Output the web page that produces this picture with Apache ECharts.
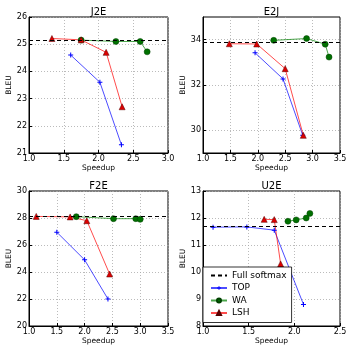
<!DOCTYPE html>
<html>
<head>
<meta charset="utf-8">
<script src="https://cdn.jsdelivr.net/npm/echarts@6/dist/echarts.min.js"></script>
<style>
  html, body { margin: 0; padding: 0; background: #fff; }
  #chart { width: 354px; height: 354px; }
</style>
</head>
<body>
<div id="chart"></div>
<script>
  // panel titles and the full softmax baseline of each
  const panels = ['J2E', 'E2J', 'F2E', 'U2E'];
  const fullSoftmax = [25.15, 33.87, 28.1, 11.69];

  // [speedup, BLEU] points
  const j2eTop = [[1.6, 24.6], [2.02, 23.6], [2.33, 21.3]];
  const j2eWA = [[1.75, 25.15], [2.25, 25.1], [2.6, 25.1], [2.7, 24.72]];
  const j2eLSH = [[1.33, 25.21], [1.75, 25.16], [2.11, 24.7], [2.34, 22.7]];

  const e2jTop = [[1.95, 33.42], [2.46, 32.27], [2.82, 29.78]];
  const e2jWA = [[2.29, 33.97], [2.89, 34.05], [3.23, 33.8], [3.3, 33.23]];
  const e2jLSH = [[1.48, 33.82], [1.98, 33.81], [2.5, 32.72], [2.83, 29.78]];

  const f2eTop = [[1.5, 26.95], [2.0, 24.9], [2.42, 22.0]];
  const f2eWA = [[1.85, 28.1], [2.52, 27.95], [2.92, 27.95], [3.0, 27.9]];
  const f2eLSH = [[1.13, 28.12], [1.74, 28.08], [2.04, 27.8], [2.45, 23.85]];

  const u2eTop = [[1.11, 11.66], [1.48, 11.67], [1.78, 11.55], [2.1, 8.8]];
  const u2eWA = [[1.93, 11.88], [2.02, 11.93], [2.13, 12.0], [2.17, 12.17]];
  const u2eLSH = [[1.67, 11.95], [1.78, 11.94], [1.85, 10.3]];

  const topSets = [j2eTop, e2jTop, f2eTop, u2eTop];
  const waSets = [j2eWA, e2jWA, f2eWA, u2eWA];
  const lshSets = [j2eLSH, e2jLSH, f2eLSH, u2eLSH];

  // axis limits per panel
  const xRange = [[1, 3], [1, 3.5], [1, 3.5], [1, 2.5]];
  const yRange = [[21, 26], [29, 35], [20, 30], [8, 13]];
  const yStep = [1, 1, 2, 1];

  const grids = [
    { left: 29, top: 17, width: 139, height: 136 },
    { left: 203, top: 17, width: 137, height: 136 },
    { left: 29, top: 191, width: 139, height: 135 },
    { left: 203, top: 191, width: 137, height: 135 }
  ];

  const font = 'DejaVu Sans';
  const plusPath = 'path://M4,0H6V4H10V6H6V10H4V6H0V4H4Z';

  const option = {
    animation: false,
    backgroundColor: '#fff',
    textStyle: { fontFamily: font },
    title: panels.map((t, i) => ({
      text: t,
      left: grids[i].left + grids[i].width / 2,
      top: grids[i].top - 10,
      textAlign: 'center',
      padding: 0,
      textStyle: { fontFamily: font, fontSize: 10, fontWeight: 'normal', color: '#000' }
    })),
    grid: grids.map(g => Object.assign({ show: true, borderColor: '#000', borderWidth: 1 }, g)),
    legend: {
      orient: 'vertical',
      left: 203,
      top: 267,
      padding: [4, 5, 5, 7],
      itemWidth: 16,
      itemHeight: 5,
      itemGap: 3.5,
      backgroundColor: '#fff',
      borderColor: '#000',
      borderWidth: 0.8,
      textStyle: { fontFamily: font, fontSize: 9, color: '#000' },
      data: [
        { name: 'Full softmax', itemStyle: { opacity: 0 } },
        'TOP', 'WA', 'LSH'
      ]
    },
    xAxis: panels.map((t, i) => ({
      type: 'value',
      gridIndex: i,
      min: xRange[i][0],
      max: xRange[i][1],
      interval: 0.5,
      name: 'Speedup',
      nameLocation: 'middle',
      nameGap: 11,
      nameTextStyle: { fontFamily: font, fontSize: 7.5, color: '#000' },
      axisLine: { show: true, onZero: false, lineStyle: { color: '#000' } },
      axisTick: { show: true, inside: true, length: 3, lineStyle: { color: '#000' } },
      axisLabel: { fontFamily: font, fontSize: 8, color: '#000', margin: 2,
        formatter: v => v.toFixed(1) },
      splitLine: { show: true, lineStyle: { color: '#aaa', type: [1, 2], width: 0.8 } }
    })),
    yAxis: panels.map((t, i) => {
      const ax = {
        type: 'value',
        gridIndex: i,
        min: yRange[i][0],
        max: yRange[i][1],
        interval: yStep[i],
        name: 'BLEU',
        nameLocation: 'middle',
        nameGap: 11,
        nameTextStyle: { fontFamily: font, fontSize: 7.5, color: '#000' },
        axisLine: { show: true, onZero: false, lineStyle: { color: '#000' } },
        axisTick: { show: true, inside: true, length: 3, lineStyle: { color: '#000' } },
        axisLabel: { fontFamily: font, fontSize: 8, color: '#000', margin: 2 },
        splitLine: { show: true, lineStyle: { color: '#aaa', type: [1, 2], width: 0.8 } }
      };
      if (i === 1) {
        // E2J only labels the even scores
        ax.axisTick.customValues = [30, 32, 34];
        ax.axisLabel.customValues = [30, 32, 34];
      }
      return ax;
    }),
    series: []
  };

  panels.forEach((t, i) => {
    option.series.push({
      name: 'Full softmax',
      type: 'line',
      xAxisIndex: i,
      yAxisIndex: i,
      data: [],
      symbol: 'none',
      lineStyle: { color: '#000', type: [4, 3], width: 1 },
      itemStyle: { color: '#000' },
      markLine: {
        silent: true,
        symbol: 'none',
        label: { show: false },
        lineStyle: { color: '#000', type: [4, 3], width: 1 },
        data: [{ yAxis: fullSoftmax[i] }]
      }
    });
    option.series.push({
      name: 'TOP',
      type: 'line',
      xAxisIndex: i,
      yAxisIndex: i,
      data: topSets[i],
      symbol: plusPath,
      symbolSize: 5,
      lineStyle: { color: '#0000ff', width: 1, opacity: 0.7 },
      itemStyle: { color: '#0000ff' }
    });
    option.series.push({
      name: 'WA',
      type: 'line',
      xAxisIndex: i,
      yAxisIndex: i,
      data: waSets[i],
      symbol: 'circle',
      symbolSize: 6,
      lineStyle: { color: '#008000', width: 1, opacity: 0.7 },
      itemStyle: { color: '#007000', borderColor: '#004000', borderWidth: 0.5 }
    });
    option.series.push({
      name: 'LSH',
      type: 'line',
      xAxisIndex: i,
      yAxisIndex: i,
      data: lshSets[i],
      symbol: 'triangle',
      symbolSize: 6,
      lineStyle: { color: '#ff0000', width: 1, opacity: 0.7 },
      itemStyle: { color: '#dd0000', borderColor: '#550000', borderWidth: 0.5 }
    });
  });

  const chart = echarts.init(document.getElementById('chart'));
  chart.setOption(option);
  window.addEventListener('resize', () => chart.resize());
</script>
</body>
</html>
